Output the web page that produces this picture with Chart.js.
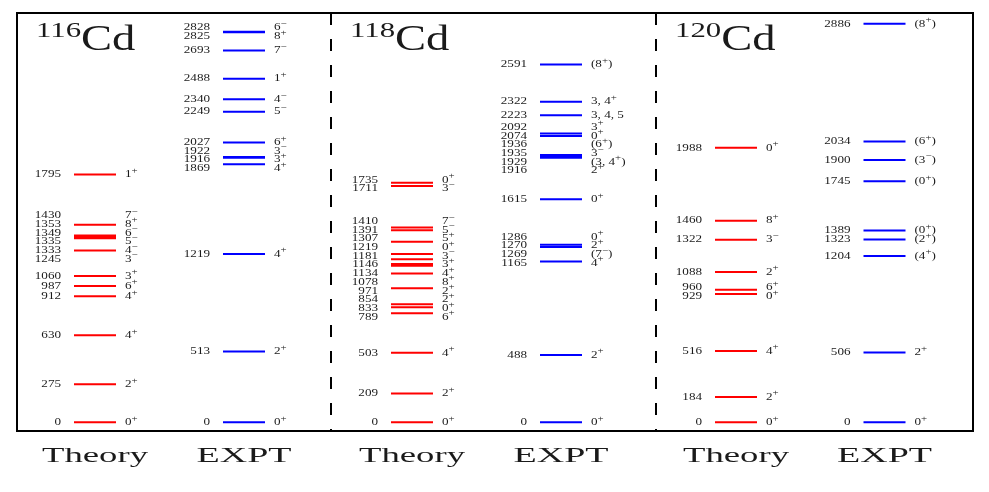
<!DOCTYPE html>
<html>
<head>
<meta charset="utf-8">
<title>Cd level schemes</title>
<style>
html, body { margin: 0; padding: 0; background: #fff; }
</style>
<script src="https://cdn.jsdelivr.net/npm/chart.js@4"></script>
</head>
<body>
<canvas id="levels" width="989" height="492"></canvas>

<script>
// level energies (keV) and spins
var cd116Theory     = [0, 275, 630, 912, 987, 1060, 1245, 1333, 1335, 1349, 1353, 1430, 1795];
var cd116TheorySpin = ['0+', '2+', '4+', '4+', '6+', '3+', '3-', '4-', '5-', '6-', '8+', '7-', '1+'];
var cd116Expt       = [0, 513, 1219, 1869, 1916, 1922, 2027, 2249, 2340, 2488, 2693, 2825, 2828];
var cd116ExptSpin   = ['0+', '2+', '4+', '4+', '3+', '3-', '6+', '5-', '4-', '1+', '7-', '8+', '6-'];

var cd118Theory     = [0, 209, 503, 789, 833, 854, 971, 1078, 1134, 1146, 1181, 1219, 1307, 1391, 1410, 1711, 1735];
var cd118TheorySpin = ['0+', '2+', '4+', '6+', '0+', '2+', '2+', '8+', '4+', '3+', '3-', '0+', '5+', '5-', '7-', '3-', '0+'];
var cd118Expt       = [0, 488, 1165, 1269, 1270, 1286, 1615, 1916, 1929, 1935, 1936, 2074, 2092, 2223, 2322, 2591];
var cd118ExptSpin   = ['0+', '2+', '4+', '(7-)', '2+', '0+', '0+', '2+', '(3, 4+)', '3-', '(6+)', '0+', '3+', '3, 4, 5', '3, 4+', '(8+)'];

var cd120Theory     = [0, 184, 516, 929, 960, 1088, 1322, 1460, 1988];
var cd120TheorySpin = ['0+', '2+', '4+', '0+', '6+', '2+', '3-', '8+', '0+'];
var cd120Expt       = [0, 506, 1204, 1323, 1389, 1745, 1900, 2034, 2886];
var cd120ExptSpin   = ['0+', '2+', '(4+)', '(2+)', '(0+)', '(0+)', '(3-)', '(6+)', '(8+)'];

var nuclei     = ['116', '118', '120'];
var columnName = ['Theory', 'EXPT', 'Theory', 'EXPT', 'Theory', 'EXPT'];

// layout (x axis runs in pixels across the frame)
var RED = '#ff0000', BLUE = '#0000ff', INK = '#1a1a1a';
var columns = [
  {e: cd116Theory, s: cd116TheorySpin, x: 78,    color: RED},
  {e: cd116Expt,   s: cd116ExptSpin,   x: 227,   color: BLUE},
  {e: cd118Theory, s: cd118TheorySpin, x: 395,   color: RED},
  {e: cd118Expt,   s: cd118ExptSpin,   x: 544,   color: BLUE},
  {e: cd120Theory, s: cd120TheorySpin, x: 719,   color: RED},
  {e: cd120Expt,   s: cd120ExptSpin,   x: 867.5, color: BLUE}
];
var panelLeft = [0, 314, 639];
var HALF = 21, YMIN = -63, YMAX = 2964;
var SERIF = '"Liberation Serif", "DejaVu Serif", serif';

var datasets = columns.map(function (c) {
  var pts = [];
  c.e.forEach(function (E) {
    pts.push({x: c.x - HALF, y: E}, {x: c.x + HALF, y: E}, {x: c.x + HALF, y: null});
  });
  return {data: pts, borderColor: c.color, borderWidth: 2, showLine: true,
          spanGaps: false, pointRadius: 0, fill: false};
});
[314, 639].forEach(function (xd) {
  datasets.push({data: [{x: xd, y: YMAX}, {x: xd, y: YMIN}], borderColor: '#000',
                 borderWidth: 2, borderDash: [12, 14], showLine: true, pointRadius: 0});
});

function stretched(ctx, text, x, y, sx, align) {
  ctx.save();
  ctx.translate(x, y);
  ctx.scale(sx, 1);
  ctx.textAlign = align || 'left';
  ctx.fillText(text, 0, 0);
  ctx.restore();
}

// push crowded labels apart, keeping each crowded group centred on its levels
function spread(ys, gap) {
  var groups = ys.map(function (y) { return {sum: y, n: 1, top: y}; });
  var again = true;
  while (again) {
    again = false;
    for (var i = 0; i < groups.length - 1; i++) {
      var a = groups[i], b = groups[i + 1];
      if (b.top - (a.top + (a.n - 1) * gap) < gap) {
        var g = {sum: a.sum + b.sum, n: a.n + b.n};
        g.top = g.sum / g.n - (g.n - 1) * gap / 2;
        groups.splice(i, 2, g);
        again = true;
        break;
      }
    }
  }
  var out = [];
  groups.forEach(function (g) { for (var k = 0; k < g.n; k++) out.push(g.top + k * gap); });
  return out;
}

function drawSpin(ctx, str, x, y) {
  var cx = x;
  for (var i = 0; i < str.length; i++) {
    var ch = str[i];
    if (ch === '+' || ch === '-') {
      var t = ch === '-' ? '\u2212' : '+';
      ctx.font = '9px ' + SERIF;
      stretched(ctx, t, cx, y - 4, 1.2);
      cx += ctx.measureText(t).width * 1.2;
    } else {
      ctx.font = '10.5px ' + SERIF;
      stretched(ctx, ch, cx, y, 1.25);
      cx += ctx.measureText(ch).width * 1.25;
    }
  }
}

var levelLabels = {
  id: 'levelLabels',
  afterDatasetsDraw: function (chart) {
    var ctx = chart.ctx, xs = chart.scales.x, ys = chart.scales.y, area = chart.chartArea;
    ctx.save();
    ctx.fillStyle = INK;
    ctx.textBaseline = 'middle';
    columns.forEach(function (c) {
      var order = c.e.map(function (E, i) { return i; })
                     .sort(function (a, b) { return c.e[b] - c.e[a]; });
      var pix = spread(order.map(function (i) { return ys.getPixelForValue(c.e[i]); }), 8.7);
      var xc = xs.getPixelForValue(c.x);
      order.forEach(function (i, k) {
        ctx.font = '10.5px ' + SERIF;
        stretched(ctx, String(c.e[i]), xc - 34, pix[k], 1.25, 'right');
        drawSpin(ctx, c.s[i], xc + 30, pix[k]);
      });
    });

    // nucleus titles
    ctx.textBaseline = 'alphabetic';
    nuclei.forEach(function (A, i) {
      var x0 = xs.getPixelForValue(panelLeft[i]) + 19;
      ctx.font = '22px ' + SERIF;
      stretched(ctx, A, x0, 37, 1.4);
      var w = ctx.measureText(A).width * 1.4;
      ctx.font = '35px ' + SERIF;
      stretched(ctx, 'Cd', x0 + w, 49.5, 1.33);
    });

    // column names under the frame
    ctx.font = '22px ' + SERIF;
    columnName.forEach(function (name, i) {
      var target = name === 'EXPT' ? 95 : 106;
      var sx = target / ctx.measureText(name).width;
      stretched(ctx, name, xs.getPixelForValue(columns[i].x), 462, sx, 'center');
    });

    // frame
    ctx.strokeStyle = '#000';
    ctx.lineWidth = 2;
    ctx.strokeRect(area.left, area.top, area.right - area.left, area.bottom - area.top);
    ctx.restore();
  }
};

new Chart(document.getElementById('levels'), {
  type: 'scatter',
  data: {datasets: datasets},
  options: {
    responsive: false,
    animation: false,
    layout: {padding: {left: 17, right: 16, top: 13, bottom: 61}},
    scales: {
      x: {type: 'linear', min: 0, max: 956, display: false},
      y: {type: 'linear', min: YMIN, max: YMAX, display: false}
    },
    plugins: {legend: {display: false}, tooltip: {enabled: false}}
  },
  plugins: [levelLabels]
});
</script>
</body>
</html>
